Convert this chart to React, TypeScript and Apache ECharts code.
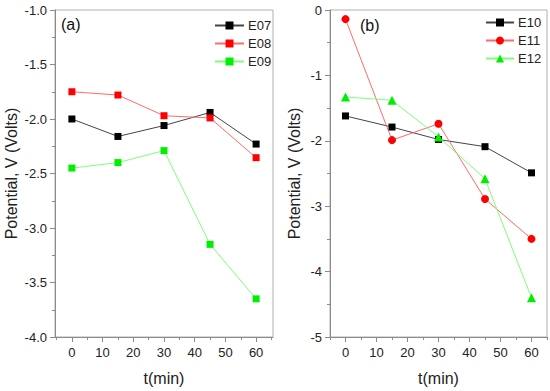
import React, { useEffect, useRef } from "react";
import * as echarts from "echarts";

const times = [0, 15, 30, 45, 60];
const xMajorTicks = [0, 10, 20, 30, 40, 50, 60];
const xMinorTicksA = [-5, 5, 15, 25, 35, 45, 55, 65];
const xMinorTicksB = [-5, 5, 15, 25, 35, 45, 55, 65];

const e07 = [-2.0, -2.16, -2.06, -1.94, -2.23];
const e08 = [-1.75, -1.78, -1.97, -1.99, -2.355];
const e09 = [-2.45, -2.4, -2.29, -3.15, -3.65];

const e10 = [-1.62, -1.79, -1.98, -2.09, -2.49];
const e11 = [-0.14, -1.99, -1.74, -2.89, -3.5];
const e12 = [-1.33, -1.38, -1.94, -2.58, -4.4];

const FONT = "'Liberation Sans', Arial, sans-serif";
const AXIS_COLOR = "#8a8a8a";
const LABEL_COLOR = "#222";

const pairs = (vals: number[]) => times.map((t, i) => [t, vals[i]]);

export default function App() {
  const ref = useRef<HTMLDivElement>(null);
  useEffect(() => {
    if (!ref.current) return;
    const chart = echarts.init(ref.current, null, { renderer: "svg" });

    const xMain = (gridIndex: number, min: number, max: number) => ({
      type: "value",
      gridIndex,
      min,
      max,
      name: "t(min)",
      nameLocation: "middle",
      nameGap: 33,
      nameTextStyle: { fontSize: 16, color: LABEL_COLOR, fontFamily: FONT },
      axisLine: { show: true, onZero: false, lineStyle: { color: AXIS_COLOR, width: 1 } },
      axisTick: { show: true, length: 5, customValues: xMajorTicks, lineStyle: { color: AXIS_COLOR } },
      axisLabel: { customValues: xMajorTicks, fontSize: 13, color: LABEL_COLOR, fontFamily: FONT, margin: 9 },
      splitLine: { show: false },
    });
    const xMinor = (gridIndex: number, min: number, max: number, vals: number[]) => ({
      type: "value",
      gridIndex,
      min,
      max,
      position: "bottom",
      axisLine: { show: false, onZero: false },
      axisTick: { show: true, length: 3, customValues: vals, lineStyle: { color: AXIS_COLOR } },
      axisLabel: { show: false },
      splitLine: { show: false },
    });
    const yAxis = (gridIndex: number, min: number, max: number, interval: number, decimals: number, nameGap: number) => ({
      type: "value",
      gridIndex,
      min,
      max,
      interval,
      name: "Potential, V (Volts)",
      nameLocation: "middle",
      nameGap,
      nameTextStyle: { fontSize: 16, color: LABEL_COLOR, fontFamily: FONT },
      axisLine: { show: true, onZero: false, lineStyle: { color: AXIS_COLOR, width: 1 } },
      axisTick: { show: true, length: 5, lineStyle: { color: AXIS_COLOR } },
      minorTick: { show: true, splitNumber: 2, length: 3, lineStyle: { color: AXIS_COLOR } },
      axisLabel: {
        fontSize: 13,
        color: LABEL_COLOR,
        fontFamily: FONT,
        margin: 8,
        formatter: (v: number) => v.toFixed(decimals),
      },
      splitLine: { show: false },
    });

    const series = (
      name: string,
      vals: number[],
      xi: number,
      yi: number,
      color: string,
      lineColor: string,
      symbol: string,
      size: number
    ) => ({
      name,
      type: "line",
      xAxisIndex: xi,
      yAxisIndex: yi,
      data: pairs(vals),
      symbol,
      symbolSize: size,
      showSymbol: true,
      itemStyle: { color, borderWidth: 0 },
      lineStyle: { color: lineColor, width: 1 },
    });

    const option = {
      animation: false,
      backgroundColor: "#fff",
      grid: [
        { left: 55, top: 10, width: 218, height: 327, show: true, borderColor: "#b0b0b0", borderWidth: 1 },
        { left: 330, top: 10, width: 217, height: 327, show: true, borderColor: "#b0b0b0", borderWidth: 1 },
      ],
      title: [
        { text: "(a)", left: 61, top: 16, padding: 0, textStyle: { fontSize: 16, fontWeight: "normal", color: "#111", fontFamily: FONT } },
        { text: "(b)", left: 360, top: 17, padding: 0, textStyle: { fontSize: 16, fontWeight: "normal", color: "#111", fontFamily: FONT } },
      ],
      legend: [
        {
          data: ["E07", "E08", "E09"],
          orient: "vertical",
          left: 214,
          top: 19,
          padding: 0,
          itemWidth: 29,
          itemHeight: 10,
          itemGap: 5,
          textStyle: { fontSize: 13, color: LABEL_COLOR, fontFamily: FONT, padding: [0, 0, 0, -1] },
        },
        {
          data: ["E10", "E11", "E12"],
          orient: "vertical",
          left: 485,
          top: 16,
          padding: 0,
          itemWidth: 28,
          itemHeight: 10,
          itemGap: 5,
          textStyle: { fontSize: 13, color: LABEL_COLOR, fontFamily: FONT, padding: [0, 0, 0, -1] },
        },
      ],
      xAxis: [
        xMain(0, -5.5, 65.5),
        xMain(1, -5, 65),
        xMinor(0, -5.5, 65.5, xMinorTicksA),
        xMinor(1, -5, 65, xMinorTicksB),
      ],
      yAxis: [yAxis(0, -4, -1, 0.5, 1, 36), yAxis(1, -5, 0, 1, 0, 28)],
      series: [
        series("E07", e07, 0, 0, "#000000", "#444444", "rect", 7),
        series("E08", e08, 0, 0, "#ff0000", "#ff6a6a", "rect", 7),
        series("E09", e09, 0, 0, "#00ee00", "#7cff7c", "rect", 7),
        series("E10", e10, 1, 1, "#000000", "#444444", "rect", 7),
        series("E11", e11, 1, 1, "#ff0000", "#ff6a6a", "circle", 8),
        series("E12", e12, 1, 1, "#00ee00", "#7cff7c", "triangle", 9),
      ],
    };
    chart.setOption(option as any);
    return () => chart.dispose();
  }, []);
  return <div ref={ref} style={{ width: 550, height: 391, position: "absolute", left: 0, top: 0 }} />;
}
